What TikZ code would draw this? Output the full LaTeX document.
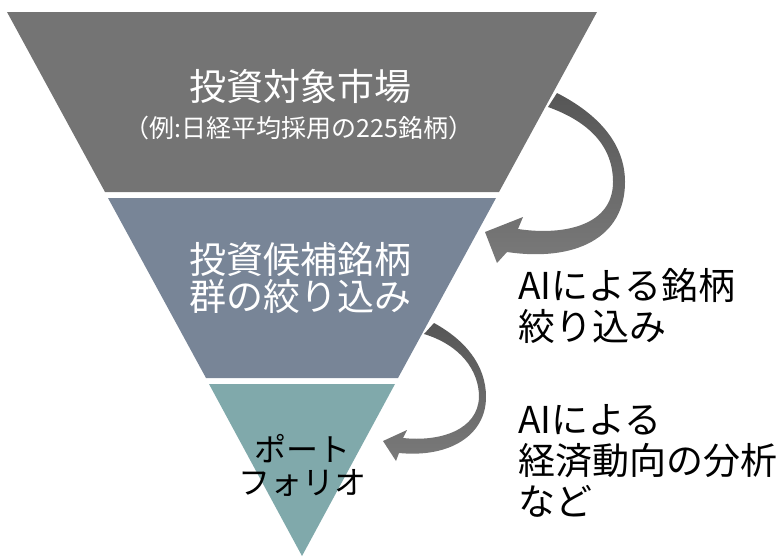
\documentclass[tikz,border=0pt]{standalone}
\usepackage{fontspec}
\setmainfont{Noto Sans CJK JP}
\definecolor{topgray}{HTML}{747474}
\definecolor{midslate}{HTML}{788597}
\definecolor{botteal}{HTML}{80A9AB}
\definecolor{arrdark}{HTML}{565656}
\definecolor{arrlight}{HTML}{7A7A7A}
\tikzset{
  layer/.style={draw=none},
  bigtxt/.style={inner sep=0pt, align=center, font=\fontsize{37}{37}\selectfont},
  subtxt/.style={inner sep=0pt, align=center, font=\fontsize{25}{26}\selectfont},
  sidetxt/.style={inner sep=0pt, anchor=west, align=left, font=\fontsize{37}{41}\selectfont},
  bendarrow/.style={draw=none, top color=arrdark, bottom color=arrlight}
}
\begin{document}
\begin{tikzpicture}[x=1pt,y=-1pt]
\useasboundingbox (0,0) rectangle (783,558);
% funnel layers
\fill[topgray, layer] (7,12) -- (597,12) -- (499,192) -- (105,192) -- cycle;
\fill[midslate, layer] (108,198) -- (496,198) -- (398,378) -- (206,378) -- cycle;
\fill[botteal, layer] (209,384) -- (395,384) -- (302,556) -- cycle;
% curved arrows
\shade[bendarrow] (557,93) .. controls (600,115) and (625,145) .. (625,182)
  .. controls (625,238) and (575,262) .. (507,252)
  -- (497,263) -- (485,232) -- (523,217) -- (518,229)
  .. controls (565,236) and (613,225) .. (613,182)
  .. controls (613,147) and (590,122) .. (548,107) -- cycle;
\shade[bendarrow] (434,323) .. controls (465,340) and (486,365) .. (486,397)
  .. controls (486,435) and (450,458) .. (399,453)
  -- (396,461) -- (383,441) -- (407,430) -- (403,438)
  .. controls (440,442) and (478,430) .. (479,397)
  .. controls (479,370) and (460,345) .. (424,334) -- cycle;
% texts
\node[bigtxt, text=white] (market) at (300,86) {投資対象市場};
\node[subtxt, text=white] (example) at (299,128) {（例:日経平均採用の225銘柄）};
\node[bigtxt, text=white] (cand) at (300,278) {投資候補銘柄\\群の絞り込み};
\node[bigtxt, text=black, font=\fontsize{32}{33}\selectfont] (port) at (302,465) {ポート\\フォリオ};
\node[sidetxt] (ai1) at (518,306) {AIによる銘柄\\絞り込み};
\node[sidetxt] (ai2) at (518,461) {AIによる\\経済動向の分析\\など};
\end{tikzpicture}
\end{document}
